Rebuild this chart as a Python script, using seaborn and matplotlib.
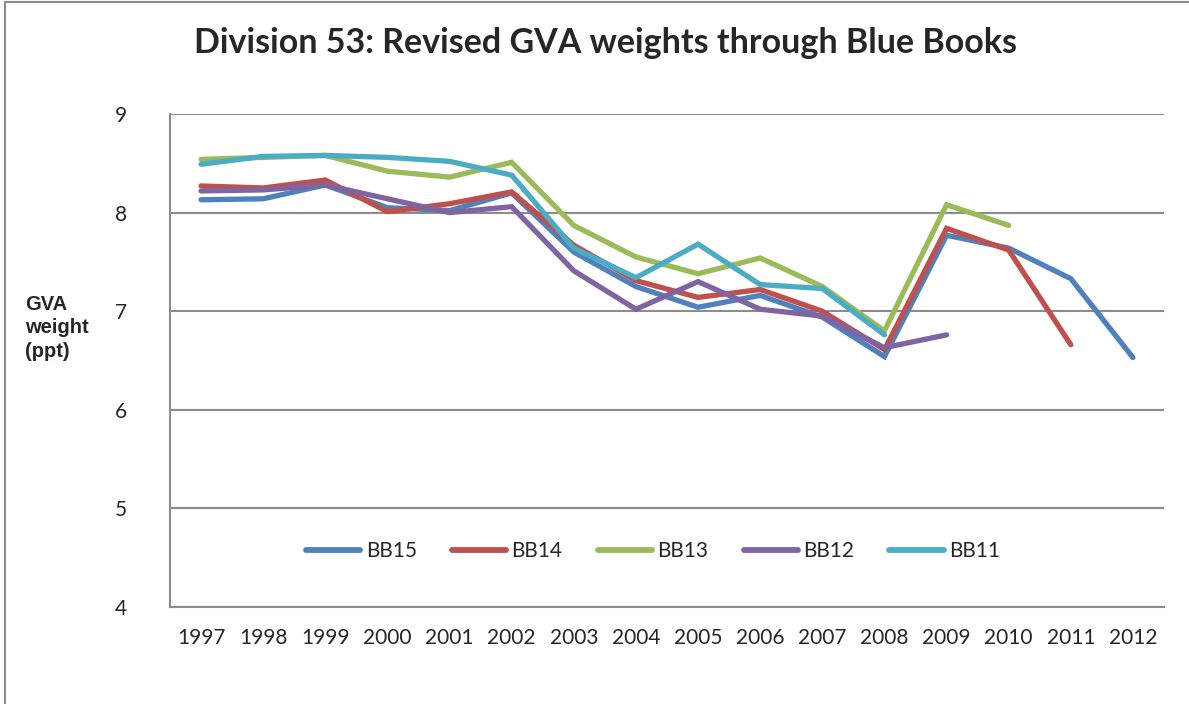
import numpy as np
import pandas as pd
import matplotlib
matplotlib.use("Agg")
import matplotlib.pyplot as plt
from matplotlib.lines import Line2D
import seaborn as sns

years = list(range(1997, 2013))
nan = np.nan
bb15 = [8.13, 8.14, 8.28, 8.05, 8.02, 8.20, 7.60, 7.25, 7.04, 7.16, 6.94, 6.54, 7.77, 7.64, 7.33, 6.53]
bb14 = [8.27, 8.25, 8.33, 8.01, 8.09, 8.21, 7.67, 7.31, 7.14, 7.22, 7.00, 6.61, 7.84, 7.62, 6.66, nan]
bb13 = [8.54, 8.56, 8.58, 8.42, 8.36, 8.51, 7.87, 7.55, 7.38, 7.54, 7.25, 6.80, 8.08, 7.87, nan, nan]
bb12 = [8.22, 8.23, 8.28, 8.14, 8.00, 8.06, 7.41, 7.02, 7.30, 7.02, 6.95, 6.63, 6.76, nan, nan, nan]
bb11 = [8.49, 8.57, 8.58, 8.56, 8.52, 8.38, 7.64, 7.34, 7.68, 7.27, 7.23, 6.76, nan, nan, nan, nan]
series_names = ["BB15", "BB14", "BB13", "BB12", "BB11"]
colors = ["#4F81BD", "#C0504D", "#9BBB59", "#8064A2", "#4BACC6"]

rows = []
for name, vals in zip(series_names, [bb15, bb14, bb13, bb12, bb11]):
    for y, v in zip(years, vals):
        if not np.isnan(v):
            rows.append({"year": y, "value": v, "series": name})
df = pd.DataFrame(rows)

sns.set_style("white")
plt.rcParams["font.family"] = ["Lato", "DejaVu Sans"]

fig = plt.figure(figsize=(11.89, 7.04), dpi=100)
ax = fig.add_axes([170 / 1189, 1 - 607 / 704, (1164 - 170) / 1189, (607 - 114) / 704])

sns.lineplot(data=df, x="year", y="value", hue="series", hue_order=series_names,
             palette=colors, linewidth=3.8, ax=ax, sort=True,
             solid_capstyle="round", solid_joinstyle="miter")

ax.set_xlim(1996.5, 2012.5)
ax.set_ylim(4, 9)
ax.set_xticks(years)
ax.set_xticklabels([str(y) for y in years])
ax.set_yticks([4, 5, 6, 7, 8, 9])
ax.set_yticklabels(["4", "5", "6", "7", "8", "9"])
ax.set_xlabel("")
ax.set_ylabel("")
ax.yaxis.grid(True, color="#8C8C8C", linewidth=1.5)
ax.xaxis.grid(False)
ax.set_axisbelow(True)
for s in ["top", "right"]:
    ax.spines[s].set_visible(False)
for s in ["left", "bottom"]:
    ax.spines[s].set_color("#8C8C8C")
    ax.spines[s].set_linewidth(1.5)
ax.tick_params(axis="y", length=0, pad=31, labelsize=15)
ax.tick_params(axis="x", length=0, pad=15, labelsize=15)

leg = ax.legend(loc="center", bbox_to_anchor=(0.486, 0.113), ncol=5, frameon=False,
                fontsize=15, handlelength=2.6, columnspacing=1.7, handletextpad=0.25)
for h in leg.get_lines():
    h.set_linewidth(4.2)

fig.text(605 / 1189, 1 - 43 / 704, "Division 53: Revised GVA weights through Blue Books",
         ha="center", va="center", fontsize=24.5, fontweight="bold")
fig.text(25 / 1189, 1 - 328 / 704, "GVA\nweight\n(ppt)", ha="left", va="center",
         fontsize=14.5, fontweight="bold", family=["Liberation Sans", "DejaVu Sans"],
         linespacing=1.3)

fig.add_artist(Line2D([5 / 1189, 1.0], [1 - 2 / 704, 1 - 2 / 704], color="#8C8C8C", linewidth=1.5))
fig.add_artist(Line2D([5 / 1189, 5 / 1189], [0.0, 1 - 2 / 704], color="#8C8C8C", linewidth=1.5))

fig.savefig("out.png", dpi=100)
